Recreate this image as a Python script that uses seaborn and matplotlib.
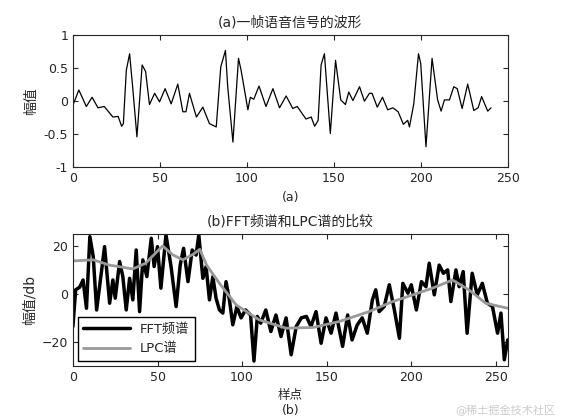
import numpy as np
import pandas as pd
import seaborn as sns
import matplotlib.pyplot as plt

sns.set_style("ticks")
plt.rcParams['font.family'] = ['DejaVu Sans', 'Noto Sans CJK SC']
plt.rcParams['xtick.direction'] = 'in'
plt.rcParams['ytick.direction'] = 'in'

# (a) speech frame waveform
wave_x = [0, 3.4, 7.7, 11, 14.4, 18, 23, 26, 28, 29, 30.7, 32.6, 34.5, 36.8, 39.8, 41.8, 44, 47, 49.8,
          53, 56.5, 60.3, 63.2, 65, 67, 71, 74.7, 78.5, 82.4, 85, 87.7, 89, 92, 95.2, 96.7, 100.6,
          102, 104, 107, 111, 115, 118.8, 122.6, 126.4, 129, 134, 137, 139, 141, 142.7, 144.6, 146,
          148, 151, 154, 156.7, 158.6, 161, 164.8, 167.6, 170.5, 172, 175, 178, 181, 184, 187, 190,
          192.5, 193.5, 196, 198.7, 200, 203, 206.5, 209.7, 211.7, 213.6, 216.5, 219, 221, 223.8,
          227, 230.5, 233, 235, 238.5, 240.4]
wave_y = [-0.06, 0.17, -0.08, 0.06, -0.1, -0.08, -0.24, -0.23, -0.38, -0.34, 0.47, 0.72, 0.17, -0.54,
          0.55, 0.45, -0.05, 0.12, -0.01, 0.19, -0.04, 0.26, -0.16, -0.16, 0.12, -0.24, -0.09, -0.34,
          -0.39, 0.52, 0.77, 0.22, -0.62, 0.65, 0.47, -0.13, 0.06, 0.03, 0.23, -0.08, 0.19, -0.1, 0.08,
          -0.11, -0.08, -0.27, -0.24, -0.38, -0.29, 0.55, 0.72, 0.22, -0.49, 0.62, 0.02, -0.05, 0.14,
          0.01, 0.22, 0, 0.12, 0.12, -0.09, 0.06, -0.13, -0.1, -0.16, -0.35, -0.29, -0.39, -0.04, 0.72,
          0.57, -0.69, 0.65, 0.02, -0.15, 0.02, 0.02, 0.22, 0.19, -0.11, 0.26, -0.14, -0.1, 0.07,
          -0.15, -0.1]

# (b) FFT spectrum
fft_x = [0, 1.6, 4, 6, 8, 10, 12, 14, 16, 18.7, 21.7, 23.6, 25, 27.6, 29.5, 31.5, 33.5, 35.4, 37.4,
         39.4, 41.3, 43.7, 46.3, 48, 50, 52, 55, 58, 61, 63.4, 65.4, 68, 70.5, 72.8, 74.4, 76.8, 78.7,
         80.7, 82.7, 84.6, 86.6, 88.6, 90.5, 92.5, 94.5, 96.9, 99.4, 102, 105, 107, 109, 111, 114,
         117, 120, 123, 126, 129, 132, 135, 138, 140.7, 143.7, 146.7, 149.6, 152.6, 155.5, 159.4,
         162.4, 165, 168, 171, 174, 177, 179, 181, 184, 187, 190, 193, 195, 198, 200, 203, 206,
         208.7, 210.6, 213.6, 216.5, 219, 221.5, 223.4, 226.4, 228.3, 230.7, 233, 236, 239, 242,
         245, 248, 251, 253, 255, 257]
fft_y = [-13.6, 1.7, 2.8, 5.8, -6, 23.9, 15.6, -6.7, 4.4, 19.7, -3.9, 5.8, -1.8, 13.5, 7.2, -6.7, 6.5,
         -2.5, 18.3, -7.4, 14.2, 7.2, 23.2, 11.4, 19.7, 2.4, 24.6, 11.4, -5.3, 12, 19, 5.1, 18.3, 16.2,
         24.6, 6.5, 11.4, -2.5, 7.2, -1.8, -6.7, -8, 5.1, -2.5, -12.9, -5.3, -10, -6.7, -8.8, -28,
         -9.4, -12.2, -6.7, -15.7, -8.8, -17.8, -10, -25.4, -13.6, -10, -9.4, -13.6, -7.4, -20.6,
         -10, -16.4, -8, -21.9, -8.8, -19.2, -13, -10, -16.4, -2.5, 1.7, -7.4, -5.3, 3.8, -6.7,
         -18.5, 4.4, 0.3, 3.8, -6.7, 5.1, 3, 12.8, -0.4, 12, 8.6, 10, -3.2, 10, 3, 9.3, -16.4, 8.6,
         -0.4, 4.4, -3.9, -5.3, -16.4, -8, -27.5, -19.2]

# (b) LPC envelope
lpc_x = [0, 12, 21.6, 35.4, 43, 53, 59, 65, 71, 75, 79, 86.6, 96.5, 110, 126, 142, 157.5, 175, 189,
         201, 212.6, 224.4, 234, 244, 257]
lpc_y = [13.75, 14.2, 12, 10.4, 12.8, 20, 16.3, 14.2, 16.5, 18.6, 12, 4.4, -4.6, -10.8, -14.3, -14,
         -11.5, -7.4, -3.2, -0.4, 2.4, 5.8, 1.7, -3.9, -6]

fig = plt.figure(figsize=(5.61, 4.2), dpi=100)
ax1 = fig.add_axes([0.130, 0.602, 0.775, 0.314])
ax2 = fig.add_axes([0.130, 0.129, 0.775, 0.314])

sns.lineplot(x=wave_x, y=wave_y, ax=ax1, color="black", linewidth=0.9)
ax1.set_xlim(0, 250)
ax1.set_ylim(-1, 1)
ax1.set_yticks([-1, -0.5, 0, 0.5, 1])
ax1.set_yticklabels(["-1", "-0.5", "0", "0.5", "1"])
ax1.set_title("(a)一帧语音信号的波形", fontsize=10)
ax1.set_ylabel("幅值", fontsize=10)
ax1.set_xlabel("(a)", fontsize=9)

sns.lineplot(x=fft_x, y=fft_y, ax=ax2, color="black", linewidth=2.5, label="FFT频谱")
sns.lineplot(x=lpc_x, y=lpc_y, ax=ax2, color="#999999", linewidth=2.0, label="LPC谱")
ax2.set_xlim(0, 257)
ax2.set_ylim(-30, 25)
ax2.set_yticks([-20, 0, 20])
ax2.set_title("(b)FFT频谱和LPC谱的比较", fontsize=10)
ax2.set_ylabel("幅值/db", fontsize=10)
ax2.set_xlabel("样点\n(b)", fontsize=9)
leg = ax2.legend(loc="lower left", fontsize=9.5, fancybox=False, framealpha=1,
                 borderaxespad=0.4, handlelength=3.5)
leg.get_frame().set_edgecolor("black")

for ax in (ax1, ax2):
    ax.tick_params(labelsize=9, top=True, right=True)
    for s in ax.spines.values():
        s.set_linewidth(0.8)

fig.text(0.99, 0.01, "@稀土掘金技术社区", ha="right", va="bottom", fontsize=8, color="#cccccc")
fig.savefig("out.png", dpi=100)
